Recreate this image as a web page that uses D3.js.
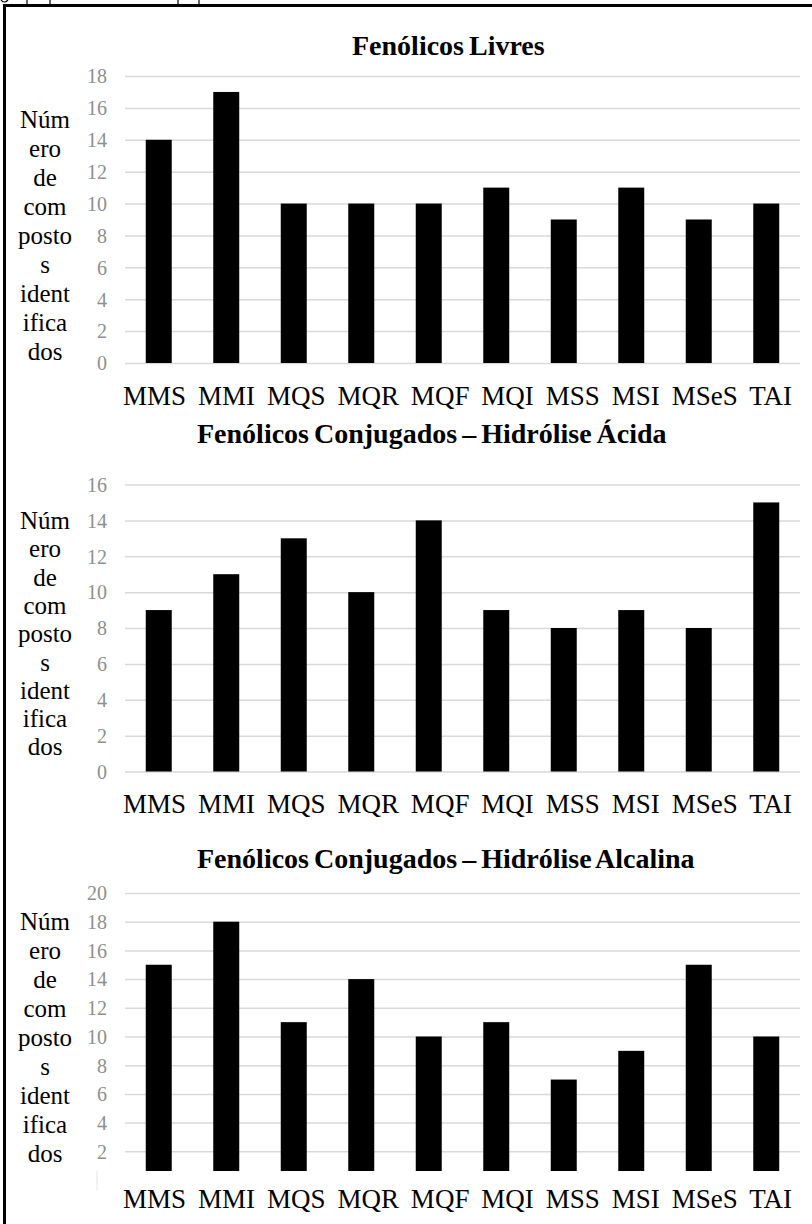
<!DOCTYPE html>
<html>
<head>
<meta charset="utf-8">
<script src="https://cdn.jsdelivr.net/npm/d3@7"></script>
<style>
  html, body { margin: 0; padding: 0; background: #fff; }
  svg { display: block; }
  .serif { font-family: "Liberation Serif", "Times New Roman", serif; }
</style>
</head>
<body>
<svg id="chart" width="812" height="1224"></svg>
<script>
// Categories (samples) shared by all three panels
const categories = ["MMS", "MMI", "MQS", "MQR", "MQF", "MQI", "MSS", "MSI", "MSeS", "TAI"];

// Number of identified compounds per sample
const livresValues   = [14, 17, 10, 10, 10, 11, 9, 11, 9, 10];
const acidaValues    = [9, 11, 13, 10, 14, 9, 8, 9, 8, 15];
const alcalinaValues = [15, 18, 11, 14, 10, 11, 7, 9, 15, 10];

// Y tick values per panel
const livresTicks   = [0, 2, 4, 6, 8, 10, 12, 14, 16, 18];
const acidaTicks    = [0, 2, 4, 6, 8, 10, 12, 14, 16];
const alcalinaTicks = [0, 2, 4, 6, 8, 10, 12, 14, 16, 18, 20];

// Panel titles
const titles = [
  "Fenólicos Livres",
  "Fenólicos Conjugados – Hidrólise Ácida",
  "Fenólicos Conjugados – Hidrólise Alcalina"
];

// Y axis title, broken into narrow lines
const yTitleLines = ["Núm", "ero", "de", "com", "posto", "s", "ident", "ifica", "dos"];

const svg = d3.select("#chart");

// Frame: heavy rule on the left and top
svg.append("rect").attr("x", 3).attr("y", 4).attr("width", 809).attr("height", 3).attr("fill", "#000");
svg.append("rect").attr("x", 3).attr("y", 4).attr("width", 3).attr("height", 1220).attr("fill", "#000");
// bits of the line of text above the frame
[27, 50, 178, 199].forEach(x => {
  svg.append("line").attr("x1", x).attr("x2", x).attr("y1", 0).attr("y2", 4)
    .attr("stroke", "#000").attr("stroke-width", 1.2);
});
svg.append("path").attr("d", "M1,0 Q4,4 8,0").attr("fill", "none").attr("stroke", "#000").attr("stroke-width", 1.2);

const plotLeft = 125, plotRight = 800, plotHeight = 287;

const panels = [
  { title: titles[0], values: livresValues, ticks: livresTicks, yMax: 18,
    top: 76, titleX: 352, titleY: 55, labelY: 405, yTitleTop: 128, yTitleStep: 29, cover: false },
  { title: titles[1], values: acidaValues, ticks: acidaTicks, yMax: 16,
    top: 484.5, titleX: 197, titleY: 443, labelY: 813, yTitleTop: 529, yTitleStep: 28.3, cover: false },
  { title: titles[2], values: alcalinaValues, ticks: alcalinaTicks, yMax: 20,
    top: 893, titleX: 197, titleY: 868, labelY: 1208, yTitleTop: 930, yTitleStep: 29, cover: true }
];

const x = d3.scaleBand()
  .domain(categories)
  .range([plotLeft, plotRight])
  .paddingInner(0.615)
  .paddingOuter(0.3075);

panels.forEach(p => {
  const g = svg.append("g");
  const y = d3.scaleLinear().domain([0, p.yMax]).range([p.top + plotHeight, p.top]);

  // gridlines + tick labels
  const axis = g.append("g")
    .attr("transform", `translate(${plotLeft},0)`)
    .call(d3.axisLeft(y).tickValues(p.ticks).tickSize(-(plotRight - plotLeft)).tickPadding(18).tickFormat(d3.format("d")));
  axis.select(".domain").remove();
  axis.selectAll(".tick line").attr("stroke", "#d9d9d9").attr("stroke-width", 1.5);
  axis.selectAll(".tick text")
    .attr("class", "serif")
    .attr("fill", "#8f8f8f")
    .style("font-size", "20px")
    .attr("dy", "0.34em");

  // bars
  g.selectAll("rect.bar")
    .data(categories.map((c, i) => ({ c, v: p.values[i] })))
    .join("rect")
    .attr("class", "bar")
    .attr("x", d => x(d.c))
    .attr("width", x.bandwidth())
    .attr("y", d => y(d.v))
    .attr("height", d => y(0) - y(d.v))
    .attr("fill", "#000");

  // white box hiding the base of the third panel
  if (p.cover) {
    g.append("rect").attr("x", 97).attr("y", 1171).attr("width", 710).attr("height", 16).attr("fill", "#fff");
    g.append("line").attr("x1", 97).attr("x2", 97).attr("y1", 1171).attr("y2", 1190)
      .attr("stroke", "#e4e4e4").attr("stroke-width", 1);
  }

  // title
  g.append("text")
    .attr("class", "serif")
    .attr("x", p.titleX).attr("y", p.titleY)
    .style("font-size", "28px").style("font-weight", "bold")
    .style("word-spacing", "-2px")
    .attr("fill", "#000")
    .text(p.title);

  // category labels, typed as one spaced line
  g.append("text")
    .attr("class", "serif")
    .attr("x", 123).attr("y", p.labelY)
    .style("font-size", "27px")
    .style("word-spacing", "5.2px")
    .attr("fill", "#000")
    .text(categories.join(" "));

  // y axis title
  const yt = g.append("text")
    .attr("class", "serif")
    .attr("text-anchor", "middle")
    .style("font-size", "25px")
    .attr("fill", "#000");
  yTitleLines.forEach((line, i) => {
    yt.append("tspan").attr("x", 45).attr("y", p.yTitleTop + i * p.yTitleStep).text(line);
  });
});
</script>
</body>
</html>
